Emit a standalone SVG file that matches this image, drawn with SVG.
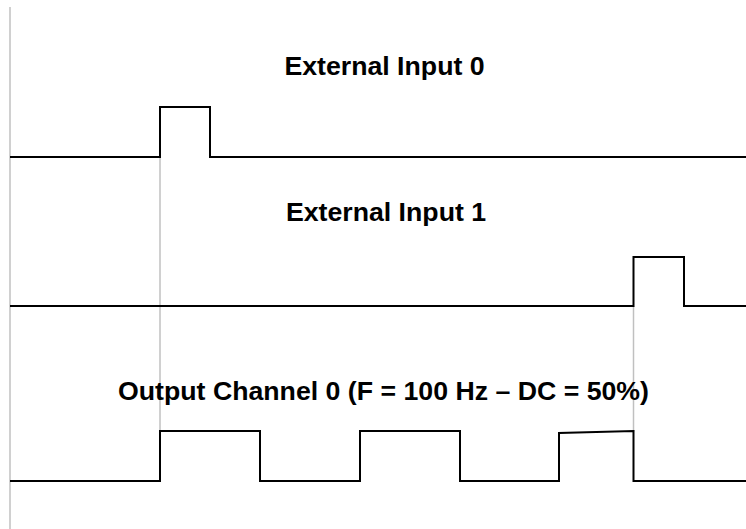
<svg xmlns="http://www.w3.org/2000/svg" width="746" height="529" viewBox="0 0 746 529">
  <style>
    .sig { fill: none; stroke: #000; stroke-width: 2; stroke-linejoin: miter; }
    .guide { fill: none; stroke: #c0c0c0; stroke-width: 1.5; }
    .lbl { font-family: "Liberation Sans", Arial, sans-serif; font-weight: bold; font-size: 26.7px; fill: #000; text-anchor: middle; }
  </style>
  <rect width="746" height="529" fill="#fff"/>
  <g id="connectors">
    <line class="guide" x1="10" y1="7" x2="10" y2="529"/>
    <line class="guide" x1="160" y1="157" x2="160" y2="432"/>
    <line class="guide" x1="633.5" y1="306" x2="633.5" y2="432"/>
  </g>
  <g id="input0">
    <text class="lbl" x="384.5" y="74.5">External Input 0</text>
    <polyline class="sig" points="10,157 160,157 160,107 210,107 210,157 746,157"/>
  </g>
  <g id="input1">
    <text class="lbl" x="386" y="220.5">External Input 1</text>
    <polyline class="sig" points="10,306 633.5,306 633.5,257 684,257 684,306 746,306"/>
  </g>
  <g id="output0">
    <text class="lbl" x="383.5" y="399.5">Output Channel 0 (F = 100 Hz – DC = 50%)</text>
    <polyline class="sig" points="10,481 160,481 160,431 260,431 260,481 360,481 360,431 460,431 460,481 559,481 559,433 633.5,431 633.5,481 746,481"/>
  </g>
</svg>
